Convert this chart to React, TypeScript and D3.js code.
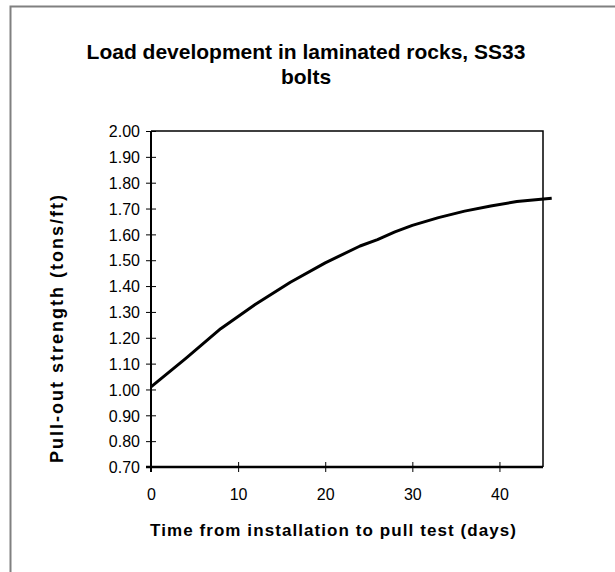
import React, { useEffect, useRef } from "react";
import * as d3 from "d3";

const days = [0, 4, 8, 12, 16, 20, 24, 26, 28, 30, 33, 36, 39, 42, 46];
const strength = [1.01, 1.12, 1.235, 1.33, 1.415, 1.49, 1.555, 1.58, 1.61, 1.635, 1.665, 1.69, 1.71, 1.727, 1.74];
const xTicks = [0, 10, 20, 30, 40];
const yTicks = [0.7, 0.8, 0.9, 1.0, 1.1, 1.2, 1.3, 1.4, 1.5, 1.6, 1.7, 1.8, 1.9, 2.0];
const titleLines = ["Load development in laminated rocks, SS33", "bolts"];
const xTitle = "Time from installation to pull test (days)";
const yTitle = "Pull-out strength (tons/ft)";

const W = 615;
const H = 572;
const L = 151, R = 543, T = 131, B = 467;
const FONT = "Arial, 'Liberation Sans', sans-serif";

export default function App() {
  const ref = useRef<SVGSVGElement>(null);
  useEffect(() => {
    const svg = d3.select(ref.current);
    svg.selectAll("*").remove();
    const x = d3.scaleLinear().domain([0, 45]).range([L, R]);
    const y = d3.scaleLinear().domain([0.7, 2.0]).range([B, T]);

    svg.append("rect").attr("x", 0).attr("y", 0).attr("width", W).attr("height", H).attr("fill", "#fff");
    svg.append("path").attr("d", `M10.5,${H + 5} L10.5,6.5 L${W + 5},6.5`)
      .attr("fill", "none").attr("stroke", "#808080").attr("stroke-width", 2);

    svg.append("path").attr("d", `M${L},${T} L${R},${T} L${R},${B}`)
      .attr("fill", "none").attr("stroke", "#000").attr("stroke-width", 1.5);

    const xAxis = d3.axisBottom(x).tickValues(xTicks).tickSize(0).tickFormat(d3.format("d"));
    const gx = svg.append("g").attr("transform", `translate(0,${B})`).call(xAxis);
    gx.attr("font-size", null).attr("font-family", null);
    gx.select(".domain").remove();
    gx.selectAll(".tick text").attr("dy", 0).attr("y", 33).style("font-size", "16px").style("font-family", FONT).attr("fill", "#000");
    gx.selectAll(".tick").append("line").attr("y1", -5).attr("y2", 5).attr("stroke", "#000").attr("stroke-width", 1);

    const yAxis = d3.axisLeft(y).tickValues(yTicks).tickSize(0).tickFormat(d3.format(".2f"));
    const gy = svg.append("g").attr("transform", `translate(${L},0)`).call(yAxis);
    gy.attr("font-size", null).attr("font-family", null);
    gy.select(".domain").remove();
    gy.selectAll(".tick text").attr("x", -11).attr("dy", "0.36em").style("font-size", "16px").style("font-family", FONT).attr("fill", "#000");
    gy.selectAll(".tick").append("line").attr("x1", -5).attr("x2", 5).attr("stroke", "#000").attr("stroke-width", 1);

    svg.append("line").attr("x1", L).attr("x2", L).attr("y1", T).attr("y2", B + 5).attr("stroke", "#000").attr("stroke-width", 2);
    svg.append("line").attr("x1", L - 5).attr("x2", R).attr("y1", B).attr("y2", B).attr("stroke", "#000").attr("stroke-width", 2.5);

    const data = days.map((d, i) => [d, strength[i]] as [number, number]);
    const line = d3.line<[number, number]>().x(d => x(d[0])).y(d => y(d[1]));
    svg.append("path").attr("d", line(data)).attr("fill", "none").attr("stroke", "#000").attr("stroke-width", 3)
      .attr("stroke-linejoin", "round");

    const title = svg.append("text").attr("text-anchor", "middle")
      .style("font-family", FONT).style("font-weight", "bold").style("font-size", "21px").attr("fill", "#000");
    titleLines.forEach((t, i) => title.append("tspan").attr("x", 306).attr("y", 59 + i * 25).text(t));

    svg.append("text").attr("x", 333).attr("y", 536).attr("text-anchor", "middle")
      .attr("textLength", 366).attr("lengthAdjust", "spacing")
      .style("font-family", FONT).style("font-weight", "bold").style("font-size", "17px").attr("fill", "#000").text(xTitle);

    svg.append("text").attr("transform", `translate(63,${329}) rotate(-90)`).attr("text-anchor", "middle")
      .attr("textLength", 268).attr("lengthAdjust", "spacing")
      .style("font-family", FONT).style("font-weight", "bold").style("font-size", "18px").attr("fill", "#000").text(yTitle);
  }, []);
  return <svg ref={ref} width={W} height={H} style={{ position: "absolute", left: 0, top: 0, display: "block" }} />;
}
